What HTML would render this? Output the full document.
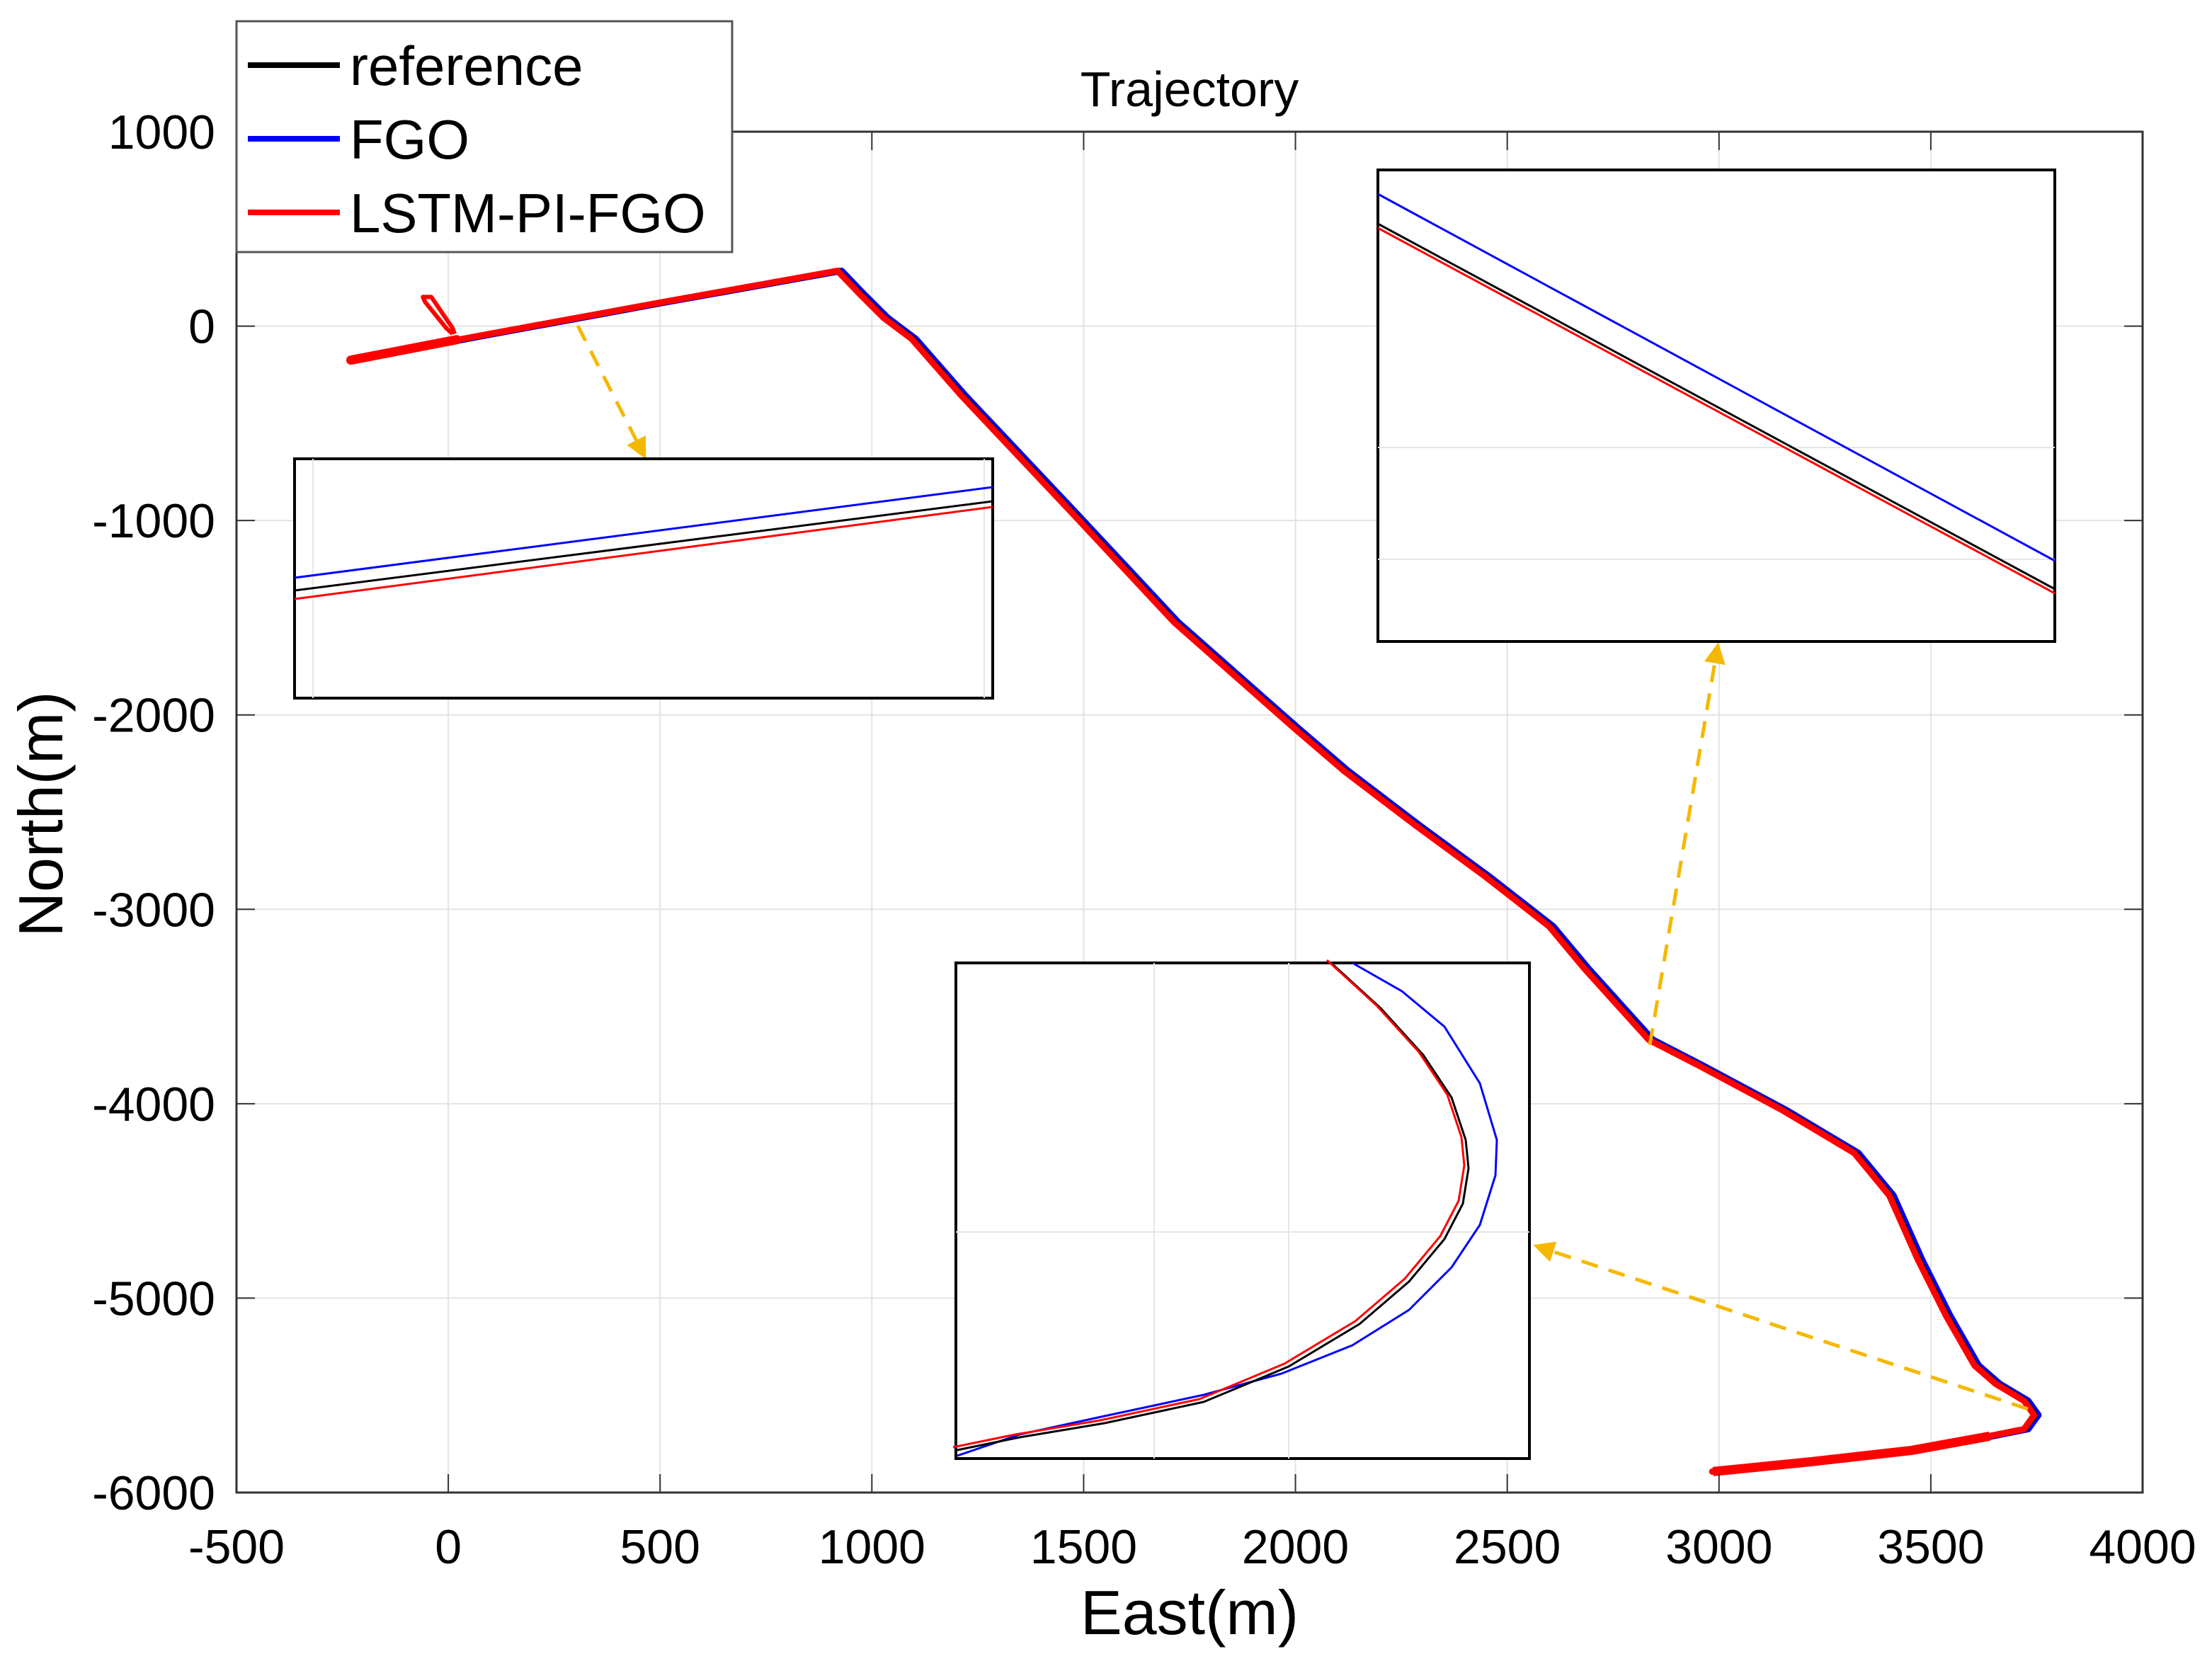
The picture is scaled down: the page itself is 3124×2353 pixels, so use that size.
<!DOCTYPE html>
<html><head><meta charset="utf-8"><style>
html,body{margin:0;padding:0;background:#fff;}
svg{display:block;font-family:"Liberation Sans",Arial,sans-serif;}
</style></head><body>
<svg id="chart" width="3124" height="2353" viewBox="0 0 3124 2353" xmlns="http://www.w3.org/2000/svg">
<rect x="0" y="0" width="3124" height="2353" fill="#fff"/>
<g id="grid"></g>
<g id="series"></g>
<g id="arrows"></g>
<g id="insets"></g>
<g id="axes"></g>
<text x="1680" y="150" font-size="70" text-anchor="middle">Trajectory</text>
<text x="1680" y="2308" font-size="88" text-anchor="middle">East(m)</text>
<text x="0" y="0" font-size="88" text-anchor="middle" transform="translate(88,1150) rotate(-90)">North(m)</text>
<g>
<rect x="334" y="30" width="700" height="326" fill="#fff" stroke="#555" stroke-width="3"/>
<line x1="350" y1="92" x2="480" y2="92" stroke="#000" stroke-width="8"/>
<text x="494" y="120" font-size="78">reference</text>
<line x1="350" y1="196" x2="480" y2="196" stroke="#0000ff" stroke-width="8"/>
<text x="494" y="224" font-size="78">FGO</text>
<line x1="350" y1="300" x2="480" y2="300" stroke="#ff0000" stroke-width="8"/>
<text x="494" y="328" font-size="78">LSTM-PI-FGO</text>
</g>
</svg>
<script>
const xTicks=[-500,0,500,1000,1500,2000,2500,3000,3500,4000];
const yTicks=[1000,0,-1000,-2000,-3000,-4000,-5000,-6000];
const trackEast=[-230,100,500,921,972,1029,1096,1213,1481,1715,1999,2116,2283,2451,2601,2685,2836,2953,3153,3321,3404,3471,3538,3605,3655,3722,3746,3722,3639,3455,3220,2986];
const trackNorth=[-175,-40,120,284,168,44,-66,-357,-976,-1522,-2068,-2287,-2564,-2833,-3088,-3307,-3671,-3802,-4035,-4253,-4472,-4800,-5091,-5346,-5441,-5528,-5601,-5674,-5710,-5783,-5841,-5892];
const loopEast=[15,10,-40,-60,-55,-5,10];
const loopNorth=[-40,-10,150,150,125,-10,-40];
const fgoOffsetEast=8;
const NS="http://www.w3.org/2000/svg";
const L=334,R=3026,T=186,B=2108;
function sx(v){return L+(v+500)/4500*(R-L);}
function sy(v){return T+(1000-v)/7000*(B-T);}
function mk(tag,attrs,parent){const e=document.createElementNS(NS,tag);for(const k in attrs)e.setAttribute(k,attrs[k]);parent.appendChild(e);return e;}
const grid=document.getElementById('grid'),axes=document.getElementById('axes'),series=document.getElementById('series');
xTicks.forEach(t=>{
 const x=sx(t);
 const g=mk('line',{x1:x,y1:T,x2:x,y2:B,stroke:'#e3e3e3','stroke-width':2},grid);
 
 
 mk('line',{x1:x,y1:B,x2:x,y2:B-26,stroke:'#333','stroke-width':2},axes);
 mk('line',{x1:x,y1:T,x2:x,y2:T+26,stroke:'#333','stroke-width':2},axes);
 const tx=mk('text',{x:x,y:2208,'font-size':68,'text-anchor':'middle'},axes);
 tx.textContent=t;
 
 
});
yTicks.forEach(t=>{
 const y=sy(t);
 const g=mk('line',{x1:L,y1:y,x2:R,y2:y,stroke:'#e3e3e3','stroke-width':2},grid);
 
 
 mk('line',{x1:L,y1:y,x2:L+26,y2:y,stroke:'#333','stroke-width':2},axes);
 mk('line',{x1:R,y1:y,x2:R-26,y2:y,stroke:'#333','stroke-width':2},axes);
 const tx=mk('text',{x:304,y:y+24,'font-size':68,'text-anchor':'end'},axes);
 tx.textContent=t;
 
 
});
const box=mk('rect',{x:L,y:T,width:R-L,height:B-T,fill:'none',stroke:'#333','stroke-width':3},axes);


function pts(E,N,dx){return E.map((e,i)=>sx(e+dx)+','+sy(N[i])).join(' ');}
const fgo=mk('polyline',{points:pts(trackEast,trackNorth,fgoOffsetEast),fill:'none',stroke:'#0000ff','stroke-width':9,'stroke-linejoin':'round'},series);


const ref=mk('polyline',{points:pts(trackEast,trackNorth,0),fill:'none',stroke:'#000','stroke-width':9,'stroke-linejoin':'round'},series);


const red=mk('polyline',{points:pts(trackEast,trackNorth,-2),fill:'none',stroke:'#ff0000','stroke-width':9,'stroke-linejoin':'round','stroke-linecap':'round'},series);


const loop=mk('polyline',{points:pts(loopEast,loopNorth,0),fill:'none',stroke:'#ff0000','stroke-width':6,'stroke-linejoin':'round'},series);


const thick1=mk('polyline',{points:pts([-230,20],[-175,-70],0),fill:'none',stroke:'#ff0000','stroke-width':13,'stroke-linecap':'round'},series);


const thick2=mk('polyline',{points:pts([3639,3455,3220,2986],[-5710,-5783,-5841,-5892],0),fill:'none',stroke:'#ff0000','stroke-width':13,'stroke-linejoin':'round'},series);



// arrows
const arrows=document.getElementById('arrows');
const defs=mk('defs',{},arrows);
const mkr=mk('marker',{id:'ah',markerWidth:6,markerHeight:6,refX:5,refY:3,orient:'auto'},defs);
mk('path',{d:'M0,0 L6,3 L0,6 Z',fill:'#f5b800'},mkr);
[[816,460,910,644],[2330,1476,2426,912],[2864,1990,2170,1760]].forEach(a=>{
 const l=mk('line',{x1:a[0],y1:a[1],x2:a[2],y2:a[3],stroke:'#f5b800','stroke-width':5,'stroke-dasharray':'24,16','marker-end':'url(#ah)'},arrows);
 
 
});

// insets
const ins=document.getElementById('insets');
function inset(name,x,y,w,h,gl,lines){
 const g=mk('g',{},ins);
 
 
 mk('rect',{x:x,y:y,width:w,height:h,fill:'#fff',stroke:'#000','stroke-width':4},g);
 gl.forEach(q=>mk('line',{x1:q[0],y1:q[1],x2:q[2],y2:q[3],stroke:'#e6e6e6','stroke-width':2},g));
 lines.forEach(ln=>mk('polyline',{points:ln[1],fill:'none',stroke:ln[0],'stroke-width':3,'stroke-linejoin':'round'},g));
}
inset('inset-start',416,648,986,338,[[442,648,442,986],[1390,648,1390,986]],[
 ['#0000ff','416,816 1402,688'],['#000','416,834 1402,708'],['#ff0000','416,846 1402,716']]);
inset('inset-middle',1946,240,956,666,[[1946,632,2902,632],[1946,790,2902,790]],[
 ['#0000ff','1946,274 2902,792'],['#000','1946,316 2902,832'],['#ff0000','1946,322 2902,838']]);
const bE=[940,975,1005,1025,1035,1037,1033,1020,995,960,910,850,780,720,676];
const bN=[680,712,745,775,805,825,850,875,905,935,965,990,1005,1015,1024];
const uE=[955,990,1020,1045,1057,1056,1045,1025,995,955,905,850,780,720,676];
const uN=[680,700,725,765,805,830,865,895,925,950,970,985,1000,1013,1028];
const P=(E,N,d)=>E.map((e,i)=>(e*2+d)+','+(N[i]*2)).join(' ');
inset('inset-turn',1350,1360,810,700,[[1630,1360,1630,2060],[1820,1360,1820,2060],[1350,1740,2160,1740]],[
 ['#0000ff',P(uE,uN,0)],['#000',P(bE,bN,0)],['#ff0000',P(bE,bN.map(v=>v-2),-6)]]);
</script>
</body></html>
